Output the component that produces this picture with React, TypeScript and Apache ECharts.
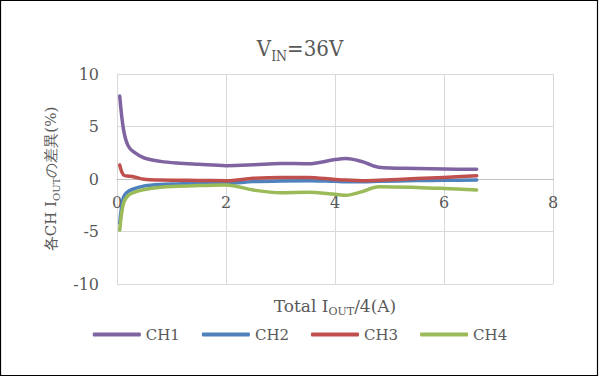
import React, { useEffect, useRef } from "react";
import * as echarts from "echarts";

const xs = [0.05, 0.12, 0.2, 0.3, 0.5, 0.8, 1.1, 1.5, 2.0, 2.5, 3.0, 3.5, 4.0, 4.2, 4.5, 4.8, 5.5, 6.0, 6.6];
const ch1 = [7.9, 4.7, 3.2, 2.6, 2.0, 1.68, 1.52, 1.4, 1.27, 1.35, 1.48, 1.45, 1.85, 1.95, 1.65, 1.12, 1.0, 0.95, 0.92];
const ch2 = [-4.2, -1.7, -1.2, -0.95, -0.67, -0.52, -0.47, -0.42, -0.41, -0.25, -0.18, -0.16, -0.22, -0.25, -0.25, -0.22, -0.15, -0.12, -0.1];
const ch3 = [1.33, 0.38, 0.28, 0.22, -0.03, -0.1, -0.12, -0.14, -0.16, 0.06, 0.15, 0.15, -0.05, -0.1, -0.16, -0.12, 0.05, 0.15, 0.3];
const ch4 = [-4.86, -2.3, -1.6, -1.3, -1.0, -0.78, -0.7, -0.63, -0.57, -1.05, -1.3, -1.26, -1.45, -1.55, -1.2, -0.73, -0.8, -0.9, -1.05];
const seriesNames = ["CH1", "CH2", "CH3", "CH4"];
const seriesColors = ["#8064A2", "#4F81BD", "#C0504D", "#9BBB59"];
const seriesValues = [ch1, ch2, ch3, ch4];

const FONT = "DejaVu Serif";
const TITLE_FONT = "'DejaVu Serif Condensed', 'Liberation Serif', serif";
const GREY = "#595959";

export default function App() {
  const ref = useRef<HTMLDivElement>(null);
  useEffect(() => {
    if (!ref.current) return;
    const chart = echarts.init(ref.current, undefined, { renderer: "svg" });
    chart.setOption({
      animation: false,
      backgroundColor: "#fff",
      textStyle: { fontFamily: FONT, color: GREY },
      title: {
        text: "V{sub|IN}=36V",
        left: "center",
        top: 28,
        textStyle: {
          fontFamily: TITLE_FONT,
          fontSize: 22,
          fontWeight: "normal",
          color: GREY,
          lineHeight: 30,
          rich: { sub: { fontFamily: TITLE_FONT, fontSize: 14, lineHeight: 12, verticalAlign: "bottom", color: GREY } },
        },
      },
      legend: {
        top: 322,
        left: "center",
        itemWidth: 48,
        itemHeight: 4,
        itemGap: 22,
        icon: "roundRect",
        textStyle: { fontFamily: FONT, fontSize: 15, color: GREY },
        data: seriesNames,
      },
      grid: { left: 117, right: 47, top: 74, bottom: 93, outerBoundsMode: "none", containLabel: false },
      xAxis: {
        type: "value",
        min: 0,
        max: 8,
        interval: 2,
        position: "bottom",
        offset: -105,
        name: "Total I{sub|OUT}/4(A)",
        nameLocation: "middle",
        nameGap: 116,
        nameMoveOverlap: false,
        nameTextStyle: {
          fontFamily: FONT,
          fontSize: 17,
          color: GREY,
          lineHeight: 22,
          rich: { sub: { fontFamily: FONT, fontSize: 11, lineHeight: 9, verticalAlign: "bottom", color: GREY } },
        },
        axisLine: { onZero: false, lineStyle: { color: "#BFBFBF", width: 1 } },
        axisTick: { show: false },
        axisLabel: { margin: 15, fontFamily: FONT, fontSize: 16, color: GREY },
        splitLine: { show: true, lineStyle: { color: "#D9D9D9", width: 1 } },
      },
      yAxis: {
        type: "value",
        min: -10,
        max: 10,
        interval: 5,
        name: "各CH I{sub|OUT}の差異(%)",
        nameLocation: "middle",
        nameGap: 56,
        nameMoveOverlap: false,
        nameTextStyle: {
          fontFamily: FONT,
          fontSize: 15,
          color: GREY,
          lineHeight: 20,
          rich: { sub: { fontFamily: FONT, fontSize: 10, lineHeight: 8, verticalAlign: "bottom", color: GREY } },
        },
        axisLine: { show: true, lineStyle: { color: "#D9D9D9", width: 1 } },
        axisTick: { show: false },
        axisLabel: { margin: 18, fontFamily: FONT, fontSize: 16, color: GREY },
        splitLine: { show: true, lineStyle: { color: "#D9D9D9", width: 1 } },
      },
      series: seriesNames.map((n, i) => ({
        name: n,
        type: "line",
        smooth: 0.35,
        showSymbol: false,
        symbol: "none",
        data: xs.map((x, j) => [x, seriesValues[i][j]]),
        lineStyle: { color: seriesColors[i], width: 3.5, cap: "round", join: "round" },
        itemStyle: { color: seriesColors[i] },
      })),
      graphic: [
        {
          type: "rect",
          shape: { x: 0.5, y: 0.5, width: 597, height: 375 },
          style: { fill: "none", stroke: "#000", lineWidth: 1.2 },
          silent: true,
        },
      ],
    });
    return () => chart.dispose();
  }, []);
  return <div ref={ref} style={{ position: "absolute", left: 0, top: 0, width: 600, height: 377 }} />;
}
